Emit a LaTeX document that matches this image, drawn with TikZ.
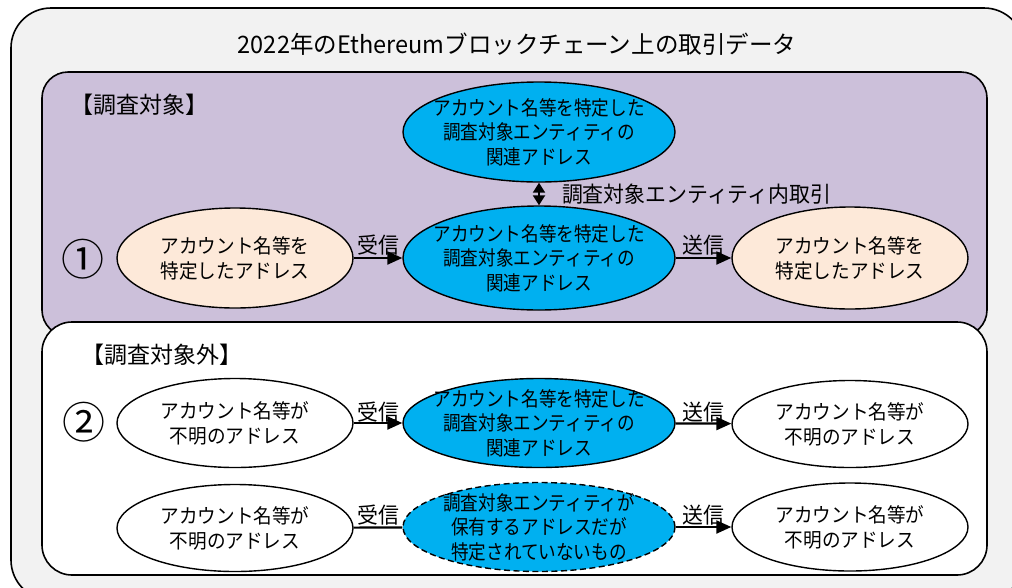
\documentclass[tikz,border=0pt]{standalone}
\usepackage{fontspec}
\setmainfont{Noto Sans CJK JP}
\newfontfamily\jp[FakeStretch=0.88]{Noto Sans CJK JP}
\newfontfamily\jpn[FakeStretch=0.93]{Noto Sans CJK JP}
\newfontfamily\jpw[FakeStretch=0.95]{Noto Sans CJK JP}
\newfontfamily\jpt[FakeStretch=0.98]{Noto Sans CJK JP}
\usetikzlibrary{shapes.geometric,arrows.meta}
\definecolor{bggray}{RGB}{242,242,242}
\definecolor{purp}{RGB}{204,192,218}
\definecolor{cyanfill}{RGB}{0,176,240}
\definecolor{peach}{RGB}{253,233,217}
\begin{document}
\begin{tikzpicture}[x=1pt,y=-1pt,
  ntext/.style={align=center, font=\jp\fontsize{20}{24.5}\selectfont, inner sep=0pt},
  nntext/.style={align=center, font=\jpn\fontsize{20}{25}\selectfont, inner sep=0pt},
  ell/.style={ellipse, draw, line width=1.4pt, inner sep=0pt, label={[ntext]center:#1}},
  nell/.style={ellipse, draw, line width=1.4pt, inner sep=0pt, label={[nntext]center:#1}},
  wide/.style={minimum width=272pt},
  narrow/.style={minimum width=236pt},
  cyanell/.style={ell=#1, wide, fill=cyanfill},
  peachell/.style={nell=#1, narrow, fill=peach},
  whiteell/.style={nell=#1, narrow, fill=white},
  panel/.style={draw, line width=1.6pt},
  arr/.style={line width=2.2pt, -{Triangle[length=15pt,width=13pt]}},
  dblarr/.style={line width=2pt, {Triangle[length=10pt,width=12pt]}-{Triangle[length=10pt,width=12pt]}},
  elab/.style={font=\jpw\fontsize{22}{24}\selectfont, inner sep=2pt},
  head/.style={font=\fontsize{23}{26}\selectfont, inner sep=0pt},
  num/.style={font=\fontsize{43}{45}\selectfont, inner sep=0pt}
]
\useasboundingbox (0,0) rectangle (1012,587);
\clip (0,0) rectangle (1012,587);
\fill[white] (0,0) rectangle (1012,587);
% outer frame
\draw[panel, fill=bggray, rounded corners=40pt] (11,8) rectangle (1024,600);
\node[font=\jpt\fontsize{24}{28}\selectfont, inner sep=0pt] (title) at (517,44) {2022年のEthereumブロックチェーン上の取引データ};
% panels
\draw[panel, fill=purp, rounded corners=26pt] (42,72) rectangle (987,336);
\draw[panel, fill=white, rounded corners=30pt] (42,322) rectangle (987,575);
\node[head, anchor=west] (h1) at (70,105) {【調査対象】};
\node[head, anchor=west] (h2) at (81,355) {【調査対象外】};
\node[num] (n1) at (83,259) {①};
\node[num] (n2) at (84,422) {②};
% row 0 / 1
\node[cyanell={アカウント名等を特定した\\調査対象エンティティの\\関連アドレス}, minimum height=100pt] (e0) at (539,132) {};
\node[peachell={アカウント名等を\\特定したアドレス}, minimum height=100pt] (e1l) at (235,258) {};
\node[cyanell={アカウント名等を特定した\\調査対象エンティティの\\関連アドレス}, minimum height=104pt] (e1m) at (539,258) {};
\node[peachell={アカウント名等を\\特定したアドレス}, minimum height=102pt] (e1r) at (850,258) {};
% row 2
\node[whiteell={アカウント名等が\\不明のアドレス}, minimum height=89pt] (e2l) at (235,423) {};
\node[cyanell={アカウント名等を特定した\\調査対象エンティティの\\関連アドレス}, minimum height=89pt] (e2m) at (539,423) {};
\node[whiteell={アカウント名等が\\不明のアドレス}, minimum height=87pt] (e2r) at (850,424) {};
% row 3
\node[whiteell={アカウント名等が\\不明のアドレス}, minimum height=87pt] (e3l) at (235,528) {};
\node[cyanell={調査対象エンティティが\\保有するアドレスだが\\特定されていないもの}, minimum height=89pt, dash pattern=on 6pt off 3.5pt] (e3m) at (539,527) {};
\node[whiteell={アカウント名等が\\不明のアドレス}, minimum height=88pt] (e3r) at (850,527) {};
% connectors
\draw[dblarr] (e0) -- node[elab, anchor=west, xshift=20pt] (lin) {調査対象エンティティ内取引} (e1m);
\draw[arr] (e1l) -- node[elab, above] (l1a) {受信} (e1m);
\draw[arr] (e1m) -- node[elab, above] (l1b) {送信} (e1r);
\draw[arr] (e2l) -- node[elab, above, inner sep=0pt] (l2a) {受信} (e2m);
\draw[arr] (e2m) -- node[elab, above, inner sep=0pt] (l2b) {送信} (e2r);
\draw[line width=2.2pt] (e3l) -- node[elab, above, inner sep=1pt] (l3a) {受信} (e3m);
\draw[arr] (e3m) -- node[elab, above, inner sep=1pt] (l3b) {送信} (e3r);
\end{tikzpicture}
\end{document}
